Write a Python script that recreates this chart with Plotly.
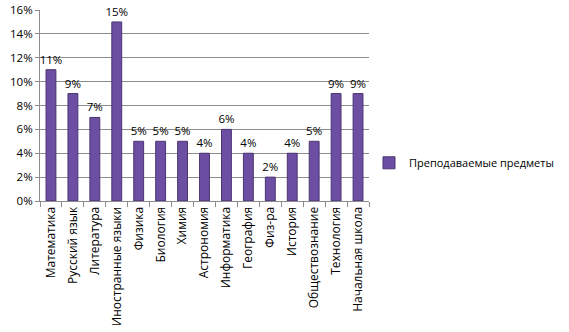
import plotly.graph_objects as go

# Share of teachers by subject taught
subjects = [
    "Математика", "Русский язык", "Литература", "Иностранные языки",
    "Физика", "Биология", "Химия", "Астрономия", "Информатика",
    "География", "Физ-ра", "История", "Обществознание", "Технология",
    "Начальная школа",
]
shares = [0.11, 0.09, 0.07, 0.15, 0.05, 0.05, 0.05, 0.04, 0.06,
          0.04, 0.02, 0.04, 0.05, 0.09, 0.09]
series_name = "Преподаваемые предметы"
y_ticks = [0, 0.02, 0.04, 0.06, 0.08, 0.10, 0.12, 0.14, 0.16]

FONT = "Open Sans"
GRID = "#8c8c8c"

fig = go.Figure(
    go.Bar(
        x=subjects,
        y=shares,
        name=series_name,
        marker=dict(color="#6c4fa2", line=dict(color="#4a3472", width=1)),
        text=shares,
        texttemplate="%{y:.0%}",
        textposition="outside",
        constraintext="none",
        textfont=dict(family=FONT, size=11.5, color="#000000"),
        cliponaxis=False,
        showlegend=True,
    )
)

fig.update_layout(
    width=569,
    height=332,
    margin=dict(l=40, r=197, t=10, b=131),
    paper_bgcolor="white",
    plot_bgcolor="white",
    font=dict(family=FONT, size=11, color="#000000"),
    bargap=0.55,
    showlegend=True,
    legend=dict(
        x=1.0, y=0.2, xanchor="left", yanchor="middle",
        font=dict(family=FONT, size=11, color="#000000"),
        itemwidth=30,
        bgcolor="rgba(0,0,0,0)",
    ),
)

fig.update_yaxes(
    range=[0, 0.16],
    tickvals=y_ticks,
    tickformat=".0%",
    automargin=False,
    showgrid=True,
    gridcolor=GRID,
    gridwidth=1,
    showline=True,
    linecolor=GRID,
    ticks="outside",
    ticklen=4,
    tickcolor=GRID,
    zeroline=False,
    tickfont=dict(family=FONT, size=11.5, color="#000000"),
)

fig.update_xaxes(
    tickangle=-90,
    automargin=False,
    showline=True,
    linecolor=GRID,
    ticks="outside",
    ticklen=5,
    tickcolor=GRID,
    tickson="boundaries",
    showgrid=False,
    tickfont=dict(family=FONT, size=12, color="#000000"),
)

fig.write_html("out.html")
